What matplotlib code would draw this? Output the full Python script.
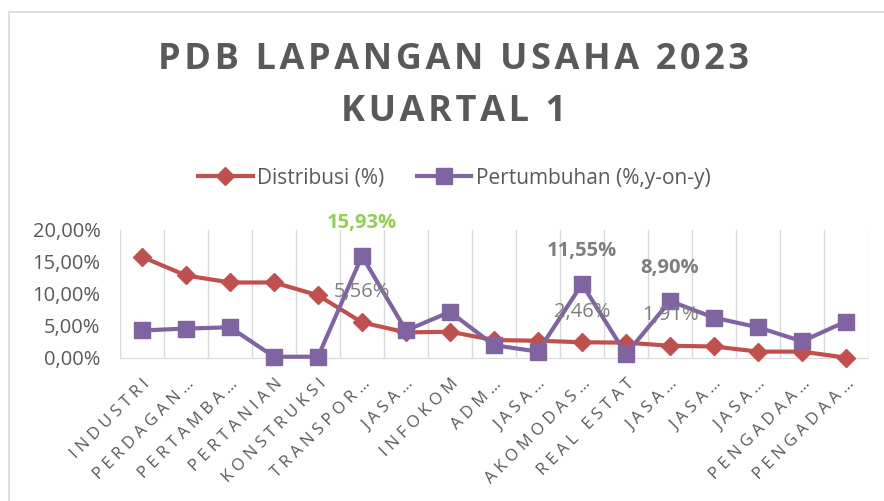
import numpy as np
import matplotlib
matplotlib.use('Agg')
import matplotlib.pyplot as plt
from matplotlib.ticker import FuncFormatter
from matplotlib.patches import Rectangle

plt.rcParams['font.family'] = ['Open Sans', 'DejaVu Sans']

# data
categories = ['INDUSTRI', 'PERDAGAN\u2026', 'PERTAMBA\u2026', 'PERTANIAN', 'KONSTRUKSI',
              'TRANSPOR\u2026', 'JASA\u2026', 'INFOKOM', 'ADM\u2026', 'JASA\u2026',
              'AKOMODAS\u2026', 'REAL ESTAT', 'JASA\u2026', 'JASA\u2026', 'JASA\u2026',
              'PENGADAA\u2026', 'PENGADAA\u2026']
distribusi = [15.8, 12.9, 11.8, 11.8, 9.8, 5.56, 4.0, 4.1, 2.8, 2.7,
              2.46, 2.4, 1.91, 1.8, 1.0, 1.0, 0.05]
pertumbuhan = [4.3, 4.6, 4.8, 0.2, 0.2, 15.93, 4.3, 7.2, 2.0, 1.0,
               11.55, 0.6, 8.90, 6.3, 4.8, 2.6, 5.7]
# points that carry a data label
lab_dist = [5, 10, 12]
lab_pert = [5, 10, 12]

red = '#C0504D'
purple = '#8064A2'
grey = '#595959'

def pct(v):
    return ('%.2f' % v).replace('.', ',') + '%'

def spaced(s, sep):
    # mimic the character spacing of the original office chart
    return sep.join(s)

fig = plt.figure(figsize=(8.84, 5.01), dpi=100)
fig.patches.append(Rectangle((9/884, -0.1), 1.2, 1 - 12/501 + 0.1, transform=fig.transFigure,
                             fill=False, edgecolor='#D9D9D9', lw=1.2))

ax = fig.add_axes([120/884, 1 - 358/501, 748/884, 128/501])
x = np.arange(len(categories))

ax.plot(x, distribusi, color=red, lw=3, marker='D', ms=9.5, zorder=3, clip_on=False,
        label='Distribusi (%)')
ax.plot(x, pertumbuhan, color=purple, lw=3, marker='s', ms=11.5, zorder=4, clip_on=False,
        label='Pertumbuhan (%,y-on-y)')

for i in lab_pert:
    c = '#92D050' if i == 5 else '#7F7F7F'
    ax.annotate(pct(pertumbuhan[i]), (x[i], pertumbuhan[i]), xytext=(0, 23.5),
                textcoords='offset points', ha='center', va='center',
                fontsize=14.5, fontweight='bold', color=c, zorder=6)
for i in lab_dist:
    ax.annotate(pct(distribusi[i]), (x[i], distribusi[i]), xytext=(0, 22),
                textcoords='offset points', ha='center', va='center',
                fontsize=14.5, color='#7F7F7F', zorder=6)

ax.set_xlim(-0.5, len(categories) - 0.5)
ax.set_ylim(0, 20)
ax.set_yticks([0, 5, 10, 15, 20])
ax.yaxis.set_major_formatter(FuncFormatter(lambda v, p: pct(v)))
ax.set_xticks(x)
ax.set_xticklabels([spaced(c, '\u2009\u200a') for c in categories], rotation=45, ha='right',
                   va='top', rotation_mode='anchor', fontsize=12, color=grey)
ax.set_xticks(np.arange(-0.5, len(categories)), minor=True)
ax.grid(True, which='minor', axis='x', color='#D9D9D9', lw=1)
ax.tick_params(axis='both', which='both', length=0)
ax.tick_params(axis='y', labelsize=14.5, labelcolor=grey, pad=14)
ax.tick_params(axis='x', pad=13)
for s in ['top', 'right', 'left']:
    ax.spines[s].set_visible(False)
ax.spines['bottom'].set_color('#D9D9D9')

fig.text(0.513, 1 - 60/501, spaced('PDB LAPANGAN USAHA 2023', '\u200a'), ha='center',
         va='center', fontsize=26, fontweight='bold', color=grey)
fig.text(0.513, 1 - 112/501, spaced('KUARTAL 1', '\u200a'), ha='center', va='center',
         fontsize=26, fontweight='bold', color=grey)

fig.legend(loc='center', bbox_to_anchor=(0.514, 1 - 178/501), ncol=2, frameon=False,
           fontsize=15, labelcolor=grey, handlelength=2.6, columnspacing=1.6,
           handletextpad=0.2)

fig.savefig('out.png', dpi=100)
